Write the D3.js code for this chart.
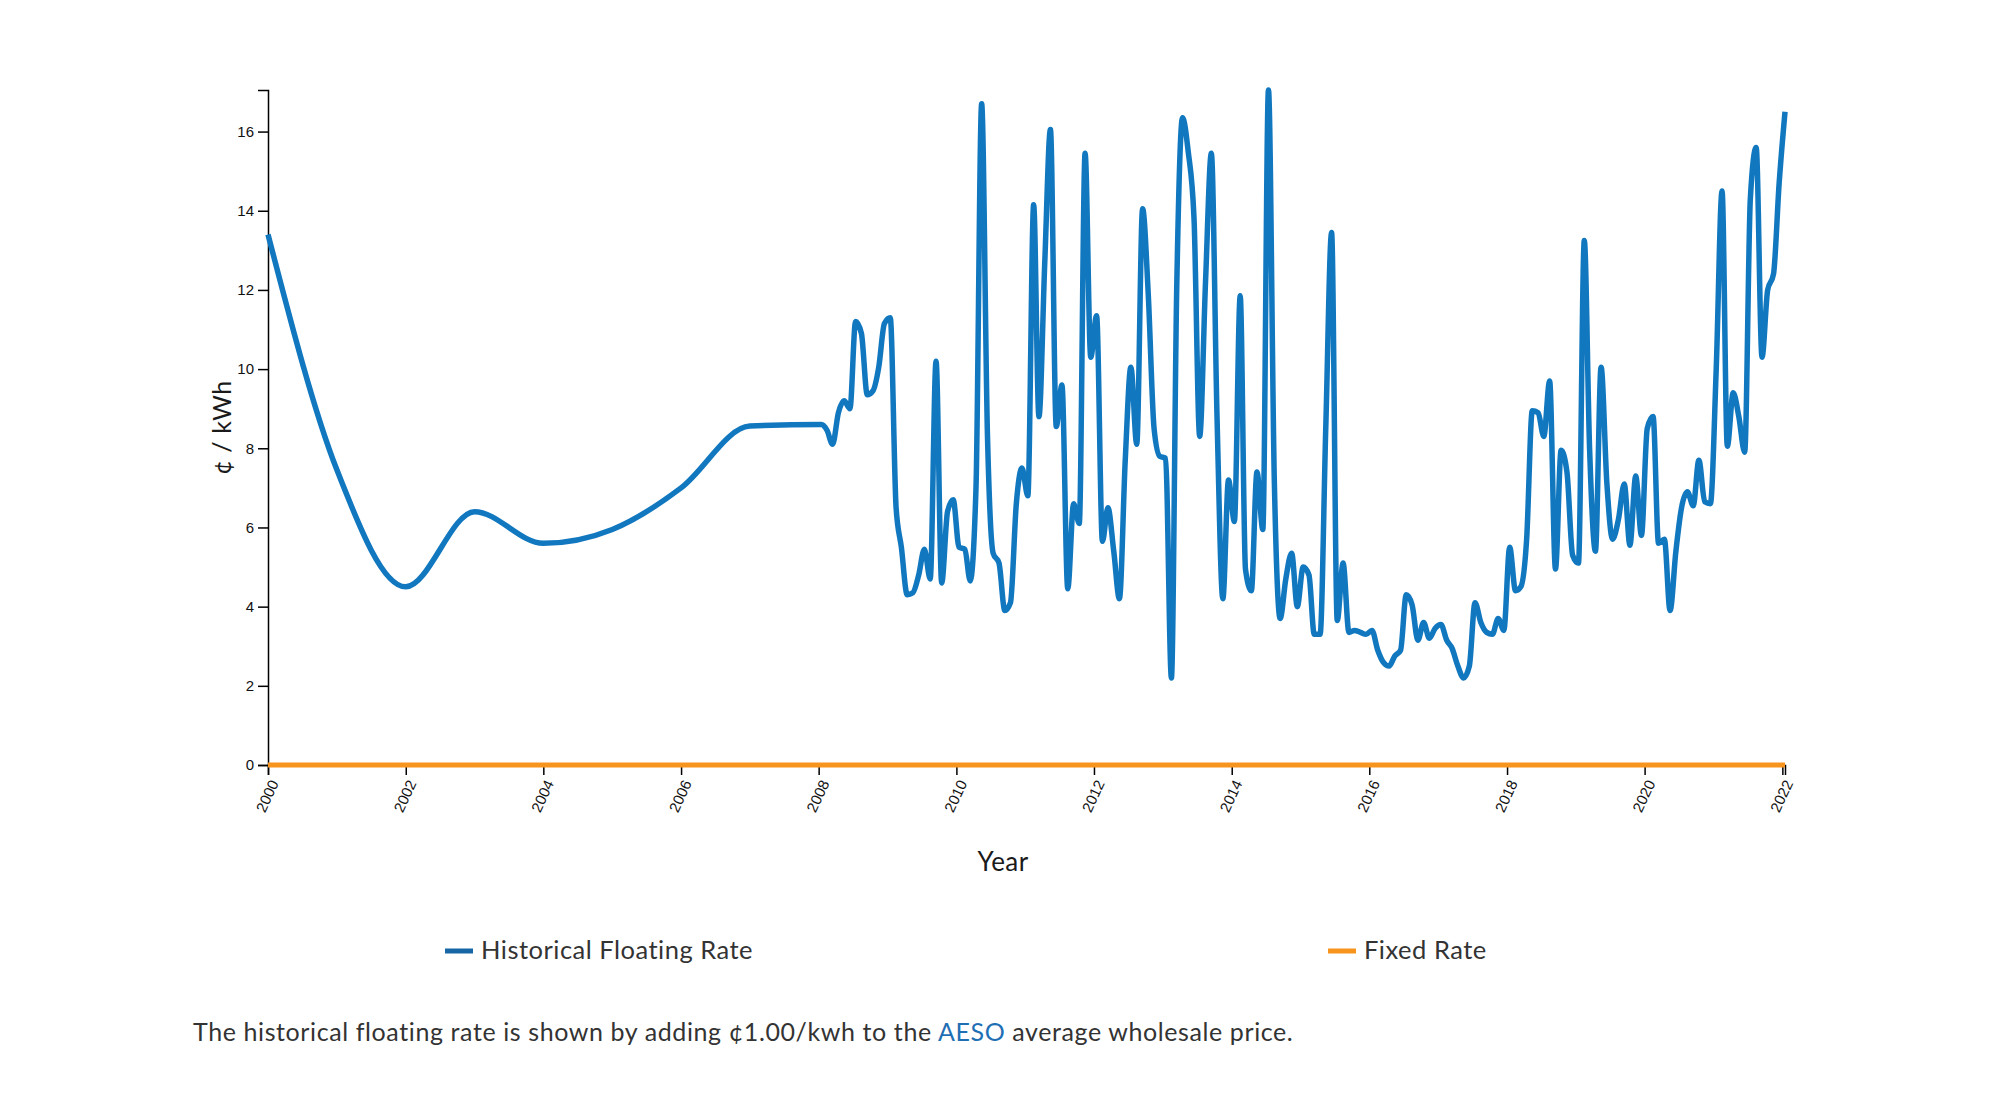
<!DOCTYPE html>
<html>
<head>
<meta charset="utf-8">
<script src="https://cdn.jsdelivr.net/npm/d3@7"></script>
<style>
  html, body { margin: 0; padding: 0; background: #ffffff; }
  svg { display: block; }
</style>
</head>
<body>
<svg id="chart" width="1992" height="1119"></svg>
<script>
// ---------------- DATA ----------------
const annualYears = [2000, 2001, 2002, 2003, 2004, 2005, 2006, 2007];
const annualRates = [13.4, 7.45, 4.5, 6.4, 5.6, 5.95, 7.0, 8.56];

// Monthly floating rate (¢/kWh), January 2008 through January 2022
const monthlyStartYear = 2008;
const monthlyRates = [
  // 2008
  8.6, 8.45, 8.1, 8.9, 9.2, 9.0, 11.2, 10.9, 9.35, 9.45, 10.05, 11.15,
  // 2009
  11.3, 6.5, 5.5, 4.3, 4.35, 4.8, 5.45, 4.7, 10.2, 4.6, 6.4, 6.7,
  // 2010
  5.5, 5.45, 4.65, 7.0, 16.7, 8.3, 5.35, 5.1, 3.9, 4.1, 6.6, 7.5,
  // 2011
  6.8, 14.15, 8.8, 12.7, 16.05, 8.55, 9.6, 4.45, 6.6, 6.1, 15.45, 10.3,
  // 2012
  11.35, 5.65, 6.5, 5.4, 4.2, 7.7, 10.05, 8.1, 14.05, 11.9, 8.5, 7.8,
  // 2013
  7.75, 2.2, 12.0, 16.35, 15.5, 13.8, 8.3, 12.2, 15.45, 8.8, 4.2, 7.2,
  // 2014
  6.15, 11.85, 4.95, 4.4, 7.4, 5.95, 17.05, 7.2, 3.7, 4.7, 5.35, 4.0,
  // 2015
  5.0, 4.8, 3.3, 3.3, 8.5, 13.45, 3.65, 5.1, 3.35, 3.4, 3.35, 3.3,
  // 2016
  3.4, 2.9, 2.6, 2.5, 2.75, 2.9, 4.3, 4.05, 3.15, 3.6, 3.2, 3.45,
  // 2017
  3.55, 3.15, 2.95, 2.5, 2.2, 2.5, 4.1, 3.6, 3.35, 3.3, 3.7, 3.4,
  // 2018
  5.5, 4.4, 4.5, 5.7, 8.95, 8.9, 8.3, 9.7, 4.95, 7.95, 7.4, 5.3,
  // 2019
  5.1, 13.25, 8.0, 5.4, 10.05, 7.1, 5.7, 6.2, 7.1, 5.55, 7.3, 5.8,
  // 2020
  8.5, 8.8, 5.6, 5.7, 3.9, 5.4, 6.5, 6.9, 6.55, 7.7, 6.65, 6.6,
  // 2021
  10.0, 14.5, 8.05, 9.4, 8.8, 7.9, 14.3, 15.6, 10.3, 12.0, 12.4, 14.7,
  // 2022
  16.5
];

const fixedRate = 0;

const yTickValues = [0, 2, 4, 6, 8, 10, 12, 14, 16];
const xTickYears = [2000, 2002, 2004, 2006, 2008, 2010, 2012, 2014, 2016, 2018, 2020, 2022];

const seriesNames = ["Historical Floating Rate", "Fixed Rate"];
const yTitle = "¢ / kWh";
const xTitle = "Year";
const captionBefore = "The historical floating rate is shown by adding ¢1.00/kwh to the ";
const captionLink = "AESO";
const captionAfter = " average wholesale price.";

// ---------------- STYLE ----------------
const floatColor = "#1177bf";
const floatLegendColor = "#1767a6";
const fixedColor = "#f7941d";
const margin = { left: 268, top: 90 };
const width = 1517;
const height = 675;
const tickFont = "'Liberation Sans', Arial, sans-serif";
const textFont = "Lato, 'Open Sans', sans-serif";

// ---------------- BUILD ----------------
const floating = annualYears.map((yr, i) => ({ date: new Date(yr, 0, 1), value: annualRates[i] }))
  .concat(monthlyRates.map((v, i) => ({ date: new Date(monthlyStartYear, i, 15), value: v })));

const svg = d3.select("#chart");
const g = svg.append("g").attr("transform", `translate(${margin.left},${margin.top})`);

const x = d3.scaleTime()
  .domain(d3.extent(floating, d => d.date))
  .range([0, width]);

const y = d3.scaleLinear()
  .domain([0, d3.max(floating, d => d.value)])
  .range([height, 0]);

// Y axis
const yAxis = g.append("g")
  .call(d3.axisLeft(y).tickValues(yTickValues).tickSize(10).tickPadding(4));
yAxis.select(".domain").attr("stroke", "#000").attr("stroke-width", 1.5);
yAxis.selectAll(".tick line").attr("stroke", "#000").attr("stroke-width", 1.5);
yAxis.selectAll(".tick text")
  .attr("font-family", tickFont)
  .attr("font-size", 15)
  .attr("fill", "#111");

// X axis
const xAxis = g.append("g")
  .attr("transform", `translate(0,${height})`)
  .call(d3.axisBottom(x)
    .tickValues(xTickYears.map(yr => new Date(yr, 0, 1)))
    .tickFormat(d3.timeFormat("%Y"))
    .tickSize(10));
xAxis.select(".domain").attr("stroke", "#000").attr("stroke-width", 1.5);
xAxis.selectAll(".tick line").attr("stroke", "#000").attr("stroke-width", 1.5);
xAxis.selectAll(".tick text")
  .attr("font-family", tickFont)
  .attr("font-size", 15)
  .attr("fill", "#111")
  .attr("y", 15)
  .attr("dx", "-0.8em")
  .attr("dy", "0.15em")
  .style("text-anchor", "end")
  .attr("transform", "rotate(-65)");

// Axis titles
svg.append("text")
  .attr("transform", `translate(231,${margin.top + height / 2}) rotate(-90)`)
  .attr("text-anchor", "middle")
  .attr("font-family", textFont)
  .attr("font-size", 25)
  .attr("letter-spacing", 0.6)
  .attr("fill", "#1a1a1a")
  .text(yTitle);

svg.append("text")
  .attr("x", 1003)
  .attr("y", 871)
  .attr("text-anchor", "middle")
  .attr("font-family", textFont)
  .attr("font-size", 26)
  .attr("letter-spacing", 0.4)
  .attr("fill", "#1a1a1a")
  .text(xTitle);

// Lines
const line = d3.line()
  .x(d => x(d.date))
  .y(d => y(d.value))
  .curve(d3.curveMonotoneX);

g.append("path")
  .datum(floating)
  .attr("fill", "none")
  .attr("stroke", floatColor)
  .attr("stroke-width", 5.5)
  .attr("stroke-linejoin", "round")
  .attr("d", line);

const fixedSeries = x.domain().map(dt => ({ date: dt, value: fixedRate }));
g.append("path")
  .datum(fixedSeries)
  .attr("fill", "none")
  .attr("stroke", fixedColor)
  .attr("stroke-width", 5)
  .attr("d", line);

// Legend
const legendItems = [
  { name: seriesNames[0], color: floatLegendColor, x: 445 },
  { name: seriesNames[1], color: fixedColor, x: 1328 }
];
const legend = svg.append("g");
legendItems.forEach(item => {
  legend.append("rect")
    .attr("x", item.x).attr("y", 948.5)
    .attr("width", 28).attr("height", 5)
    .attr("fill", item.color);
  legend.append("text")
    .attr("x", item.x + 36).attr("y", 958.5)
    .attr("font-family", textFont)
    .attr("font-size", 25.5)
    .attr("letter-spacing", 0.5)
    .attr("fill", "#333")
    .text(item.name);
});

// Caption
const cap = svg.append("text")
  .attr("x", 193).attr("y", 1040.5)
  .attr("font-family", textFont)
  .attr("font-size", 25)
  .attr("letter-spacing", 0.6)
  .attr("fill", "#333");
cap.append("tspan").text(captionBefore);
cap.append("tspan").attr("fill", "#1f6fb5").text(captionLink);
cap.append("tspan").text(captionAfter);
</script>
</body>
</html>
